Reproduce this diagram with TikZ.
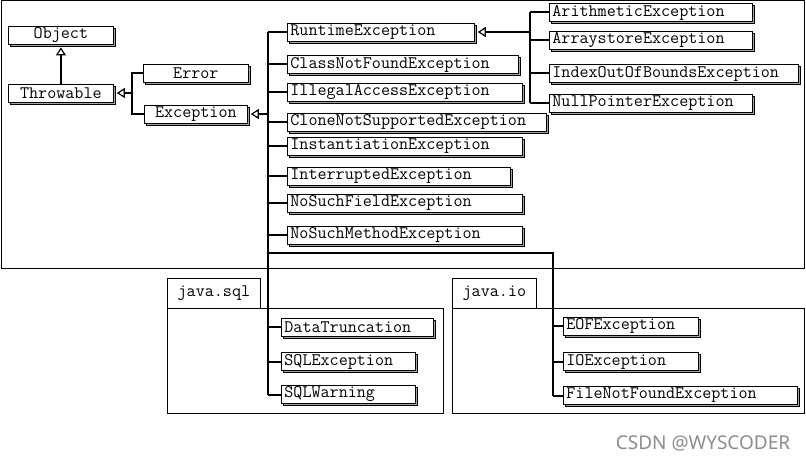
\documentclass[tikz,border=0pt]{standalone}
\usepackage{fontspec}
\usetikzlibrary{arrows.meta,
                shadows}
\newfontfamily\wmfont{Noto Sans}
\newcommand{\clsfont}{\ttfamily\fontsize{17.6}{18}\selectfont}

\begin{document}
\begin{tikzpicture}[
            x=1pt, y=-1pt,
            cls/.style = {draw, fill=white, anchor=west, font=\clsfont,
                    inner xsep=3pt, inner ysep=0pt, minimum height=18pt,
                    align=left, line width=0.8pt,
                    drop shadow={shadow xshift=2pt, shadow yshift=-2pt,
                    fill=gray!70, draw=black, line width=0.6pt, opacity=1}},
            root/.style = {cls, align=center},
            link/.style = {line width=2pt},
            inh/.style = {link, -{Triangle[open, length=8pt, width=10pt,
                    line width=1.2pt]}, shorten >=3pt},
            pkg/.style = {draw, line width=0.8pt, anchor=north west,
                    inner sep=0pt, font=\clsfont}]
        \useasboundingbox (0,0) rectangle (806,462);

        % frame of java.lang
        \draw [line width=0.8pt] (1,0.5) rectangle (804,268);

        % packages
        \node [pkg, minimum width=93pt, minimum height=30pt]
            (sqltab) at (167,278) {java.sql};
        \node [pkg, minimum width=276pt, minimum height=105pt]
            (sqlpkg) at (167,308) {};
        \node [pkg, minimum width=84pt, minimum height=30pt]
            (iotab) at (452,278) {java.io};
        \node [pkg, minimum width=352pt, minimum height=105pt]
            (iopkg) at (452,308) {};

        % classes
        \node [root, text width=99pt] (obj) at (8,35)   {Object};
        \node [root, text width=99pt] (thr) at (8,93)   {Throwable};
        \node [root, text width=99pt] (err) at (143,73) {Error};
        \node [root, text width=97pt] (exc) at (144,114) {Exception};

        \node [cls, text width=181pt] (rt)   at (287,32)    {RuntimeException};
        \node [cls, text width=225pt] (cnf)  at (287,64.5)  {ClassNotFoundException};
        \node [cls, text width=229pt] (iae)  at (287,92)    {IllegalAccessException};
        \node [cls, text width=253pt] (cns)  at (287,122)   {CloneNotSupportedException};
        \node [cls, text width=229pt] (ins)  at (287,146.5) {InstantiationException};
        \node [cls, text width=217pt] (int)  at (287,176)   {InterruptedException};
        \node [cls, text width=229pt] (nsf)  at (287,203)   {NoSuchFieldException};
        \node [cls, text width=229pt] (nsm)  at (287,235)   {NoSuchMethodException};

        \node [cls, text width=197pt] (ari)  at (549,12.5)  {ArithmeticException};
        \node [cls, text width=197pt] (ars)  at (549,40.5)  {ArraystoreException};
        \node [cls, text width=243pt] (ioob) at (549,73.5)  {IndexOutOfBoundsException};
        \node [cls, text width=197pt] (npe)  at (549,103)   {NullPointerException};

        \node [cls, text width=146pt] (dt)   at (281,327)   {DataTruncation};
        \node [cls, text width=128pt] (sqle) at (281,361.5) {SQLException};
        \node [cls, text width=128pt] (sqlw) at (281,394.5) {SQLWarning};

        \node [cls, text width=129pt] (eof)  at (563,326)   {EOFException};
        \node [cls, text width=129pt] (ioe)  at (563,361.5) {IOException};
        \node [cls, text width=228pt] (fnf)  at (563,395.5) {FileNotFoundException};

        % junctions
        \coordinate (jt) at (132,93);
        \coordinate (je) at (268,114);
        \coordinate (jr) at (530,32);
        \coordinate (ji) at (553,253);

        % inheritance
        \draw [inh] (thr.north) -- (obj.south);
        \draw [link] (err.west) -| (jt) |- (exc.west);
        \draw [inh] (jt) -- (thr.east);
        \draw [inh] (je) -- (exc.east);
        \draw [inh] (jr) -- (rt.east);

        \draw [link] (rt.west -| je) -- (sqlw.west -| je);
        \foreach \n in {rt, cnf, iae, cns, ins, int, nsf, nsm, dt, sqle, sqlw}
            \draw [link] (\n.west -| je) -- (\n.west);

        \draw [link] (ari.west -| jr) -- (npe.west -| jr);
        \foreach \n in {ari, ars, ioob, npe}
            \draw [link] (\n.west -| jr) -- (\n.west);

        \draw [link] (ji -| je) -- (ji) -- (fnf.west -| ji);
        \foreach \n in {eof, ioe, fnf}
            \draw [link] (\n.west -| ji) -- (\n.west);

        \node [font=\wmfont\fontsize{19}{20}\selectfont, text=black!45]
            (wm) at (703,443) {CSDN @WYSCODER};
    \end{tikzpicture}
\end{document}
